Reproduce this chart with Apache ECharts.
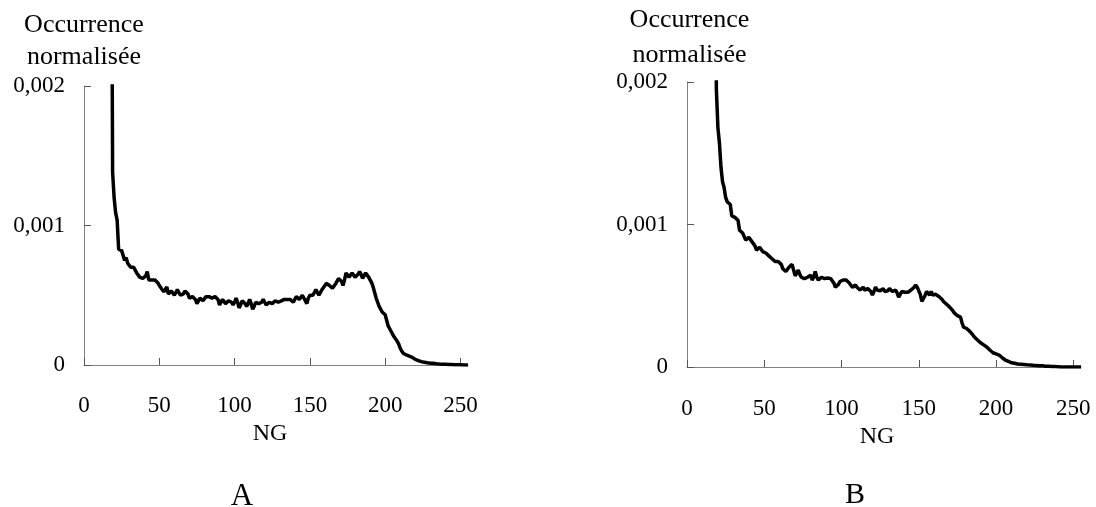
<!DOCTYPE html>
<html>
<head>
<meta charset="utf-8">
<script src="https://cdn.jsdelivr.net/npm/echarts@6/dist/echarts.min.js"></script>
<style>
html,body{margin:0;padding:0;background:#fff;}
#chart{width:1096px;height:507px;}
</style>
</head>
<body>
<div id="chart"></div>
<script>
// Histogram values, in units of 1e-4, starting at NG = ngStart (one value per grey level)
const valueScale = 1e-4;
const ngStart = 18;
const valuesA = [
  40, 13.8, 12.0, 10.9, 10.4, 8.3, 8.4, 8.2, 8.1, 7.5, 7.7, 7.3,            // 18-29
  7.2, 7.0, 6.9, 7.0, 7.1, 6.6, 6.5, 6.3, 6.4, 6.2,                         // 30-39
  6.2, 6.4, 6.7, 6.1, 6.2, 6.1, 6.0, 6.1, 6.2, 5.9,                         // 40-49
  5.7, 5.6, 5.4, 5.25, 5.4, 5.6, 5.1, 5.0, 5.3, 5.4,                        // 50-59
  5.0, 5.2, 5.4, 5.2, 5.0, 5.1, 5.1, 5.3, 5.4, 5.1,                         // 60-69
  4.8, 4.7, 4.9, 5.0, 4.7, 4.4, 4.6, 4.8, 4.7, 4.6,                         // 70-79
  4.7, 4.9, 5.0, 4.9, 4.8, 4.8, 4.7, 4.9, 5.0, 4.7,                         // 80-89
  4.3, 4.5, 4.7, 4.6, 4.4, 4.5, 4.6, 4.7, 4.5, 4.3,                         // 90-99
  4.5, 4.8, 4.5, 4.1, 4.3, 4.6, 4.7, 4.4, 4.2, 4.4,                         // 100-109
  4.7, 4.4, 4.0, 4.2, 4.5, 4.5, 4.4, 4.3, 4.5, 4.7,                         // 110-119
  4.5, 4.3, 4.4, 4.5, 4.5, 4.4, 4.4, 4.6, 4.7, 4.5,                         // 120-129
  4.4, 4.6, 4.7, 4.7, 4.7, 4.7, 4.8, 4.7, 4.6, 4.5,                         // 130-139
  4.7, 4.9, 4.8, 4.7, 4.8, 5.0, 4.8, 4.6, 4.4, 4.8,                         // 140-149
  5.0, 5.0, 5.0, 5.2, 5.4, 5.2, 5.0, 5.2, 5.4, 5.5,                         // 150-159
  5.7, 5.85, 5.8, 5.7, 5.6, 5.5, 5.6, 5.8, 6.0, 6.2,                        // 160-169
  6.2, 6.0, 5.7, 6.1, 6.6, 6.6, 6.3, 6.4, 6.6, 6.5,                         // 170-179
  6.3, 6.2, 6.5, 6.7, 6.5, 6.2, 6.4, 6.6, 6.5, 6.3,                         // 180-189
  6.2, 5.9, 5.6, 5.2, 4.8, 4.5, 4.2, 4.0, 3.8, 3.7,                         // 190-199
  3.6, 3.5, 2.8, 2.6, 2.4, 2.2, 2.0, 1.9, 1.7, 1.5,                         // 200-209
  1.2, 1.0, 0.84, 0.8, 0.72, 0.68, 0.64, 0.6, 0.55, 0.48,                   // 210-219
  0.4, 0.36, 0.32, 0.28, 0.24, 0.22, 0.2, 0.17, 0.16, 0.14,                 // 220-229
  0.13, 0.12, 0.12, 0.1, 0.09, 0.08, 0.07, 0.06, 0.06, 0.05,                // 230-239
  0.05, 0.04, 0.04, 0.03, 0.03, 0.02, 0.02, 0.02, 0.01, 0.01,               // 240-249
  0.01, 0, 0, 0, 0, 0                                                       // 250-255
];
const valuesB = [
  40, 19.5, 16.8, 15.7, 14.0, 13.0, 12.6, 11.9, 11.6, 11.5, 11.4, 10.6,     // 18-29
  10.6, 10.5, 10.4, 10.3, 9.6, 9.5, 9.4, 9.3, 8.9, 9.0,                     // 30-39
  9.1, 9.1, 8.8, 8.7, 8.5, 8.2, 8.3, 8.4, 8.3, 8.1,                         // 40-49
  8.1, 8.0, 7.9, 7.8, 7.7, 7.6, 7.5, 7.4, 7.3, 7.4,                         // 50-59
  7.5, 7.2, 6.9, 6.8, 6.7, 6.8, 7.0, 7.1, 7.2, 7.3,                         // 60-69
  6.4, 6.6, 6.8, 6.5, 6.3, 6.3, 6.2, 6.2, 6.3, 6.4,                         // 70-79
  6.45, 6.1, 6.3, 6.7, 6.3, 6.1, 6.2, 6.3, 6.25, 6.2,                       // 80-89
  6.2, 6.25, 6.3, 6.2, 6.1, 5.9, 5.6, 5.5, 5.8, 6.0,                        // 90-99
  6.1, 6.1, 6.0, 6.1, 6.0, 5.9, 5.8, 5.6, 5.7, 5.75,                        // 100-109
  5.6, 5.5, 5.4, 5.5, 5.6, 5.4, 5.3, 5.5, 5.6, 5.3,                         // 110-119
  5.05, 5.3, 5.6, 5.4, 5.3, 5.35, 5.45, 5.5, 5.3, 5.2,                      // 120-129
  5.35, 5.5, 5.4, 5.3, 5.35, 5.4, 5.2, 4.9, 5.1, 5.3,                       // 130-139
  5.3, 5.25, 5.2, 5.25, 5.3, 5.4, 5.5, 5.6, 5.75, 5.6,                      // 140-149
  5.5, 5.1, 4.6, 4.5, 5.0, 5.3, 5.2, 5.05, 5.3, 5.05,                       // 150-159
  5.15, 5.1, 5.0, 4.95, 4.85, 4.75, 4.6, 4.46, 4.4, 4.35,                   // 160-169
  4.2, 4.1, 3.95, 3.8, 3.7, 3.6, 3.55, 3.5, 3.1, 2.8,                       // 170-179
  2.75, 2.7, 2.6, 2.5, 2.4, 2.25, 2.1, 2.0, 1.9, 1.8,                       // 180-189
  1.7, 1.66, 1.55, 1.45, 1.4, 1.3, 1.19, 1.1, 1.0, 0.96,                    // 190-199
  0.92, 0.9, 0.84, 0.75, 0.65, 0.55, 0.49, 0.44, 0.4, 0.35,                 // 200-209
  0.3, 0.28, 0.26, 0.23, 0.21, 0.2, 0.19, 0.18, 0.17, 0.16,                 // 210-219
  0.15, 0.14, 0.14, 0.13, 0.12, 0.12, 0.11, 0.1, 0.09, 0.08,                // 220-229
  0.08, 0.07, 0.06, 0.06, 0.05, 0.04, 0.04, 0.03, 0.03, 0.02,               // 230-239
  0.02, 0.01, 0, 0, 0, 0, 0, 0, 0, 0,                                       // 240-249
  0, 0, 0, 0, 0, 0                                                          // 250-255
];
const xTickValues = [0, 50, 100, 150, 200, 250];
const yTickValues = [0, 0.001, 0.002];
const yAxisTitle = 'Occurrence\nnormalisée';
const xAxisTitle = 'NG';
const panelLabels = ['A', 'B'];

function toPairs(values) {
  return values.map((v, i) => [ngStart + i, v * valueScale]);
}

const FONT = 'Liberation Serif';
const axisGray = '#808080';

function makeX(gridIndex, nameShift, nameGap, labelMargin) {
  return {
    type: 'value', gridIndex, min: 0, max: 255,
    name: xAxisTitle, nameLocation: 'middle', nameGap,
    nameTextStyle: {fontFamily: FONT, fontSize: 24, color: '#000', padding: [0, nameShift, 0, 0]},
    axisLine: {show: true, lineStyle: {color: axisGray, width: 1}},
    axisTick: {show: true, inside: true, length: 7, lineStyle: {color: '#555', width: 1}, customValues: xTickValues},
    axisLabel: {fontFamily: FONT, fontSize: 23, color: '#000', margin: labelMargin, customValues: xTickValues},
    splitLine: {show: false}
  };
}
function makeY(gridIndex, nameGap, lineHeight, shift) {
  return {
    type: 'value', gridIndex, min: 0, max: 0.002,
    name: yAxisTitle, nameLocation: 'end', nameGap, nameMoveOverlap: false,
    nameTextStyle: {fontFamily: FONT, fontSize: 26, color: '#000', lineHeight, align: 'center',
      padding: [0, 0, 0, shift]},
    axisLine: {show: true, lineStyle: {color: axisGray, width: 1}},
    axisTick: {show: true, inside: true, length: 7, lineStyle: {color: '#555', width: 1}, customValues: yTickValues},
    axisLabel: {fontFamily: FONT, fontSize: 23, color: '#000', margin: 19, customValues: yTickValues,
      formatter: v => String(v).replace('.', ',')},
    splitLine: {show: false}
  };
}

const chart = echarts.init(document.getElementById('chart'), null, {renderer: 'canvas'});
chart.setOption({
  backgroundColor: '#fff',
  animation: false,
  title: [
    {text: panelLabels[0], left: 237, top: 476, textAlign: 'center',
     textStyle: {fontFamily: FONT, fontSize: 31, fontWeight: 'normal', color: '#000'}},
    {text: panelLabels[1], left: 850, top: 475, textAlign: 'center',
     textStyle: {fontFamily: FONT, fontSize: 30, fontWeight: 'normal', color: '#000'}}
  ],
  grid: [
    {left: 84, top: 86, width: 384, height: 279},
    {left: 687, top: 82, width: 394, height: 285}
  ],
  xAxis: [makeX(0, 12, 55, 29), makeX(1, 14, 57, 30)],
  yAxis: [makeY(0, 13, 32, 0), makeY(1, 9, 35, 5)],
  series: [
    {type: 'line', xAxisIndex: 0, yAxisIndex: 0, data: toPairs(valuesA), showSymbol: false,
     clip: true, lineStyle: {color: '#000', width: 3.5}, silent: true},
    {type: 'line', xAxisIndex: 1, yAxisIndex: 1, data: toPairs(valuesB), showSymbol: false,
     clip: true, lineStyle: {color: '#000', width: 3.5}, silent: true}
  ]
});
</script>
</body>
</html>
